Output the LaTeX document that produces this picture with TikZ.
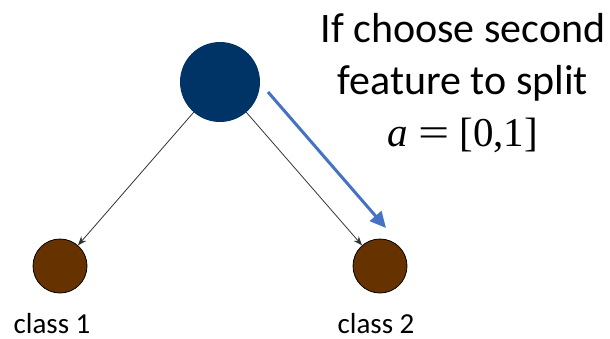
\documentclass[tikz,border=0pt]{standalone}
\usepackage{graphicx}
\usepackage{fontspec}
\setmainfont{Carlito}
\newfontfamily\formulafont{Liberation Serif}
\usetikzlibrary{arrows.meta}
\definecolor{rootblue}{RGB}{0,51,102}
\definecolor{leafbrown}{RGB}{102,51,0}
\definecolor{pickblue}{RGB}{68,114,196}
\tikzset{
  rootnode/.style={circle,fill=rootblue,inner sep=0pt,minimum size=80pt},
  leafnode/.style={circle,fill=leafbrown,draw=black,line width=0.8pt,inner sep=0pt,minimum size=54pt},
  edge/.style={draw=black!80,line width=0.8pt,-{Stealth[length=9pt,width=7pt]}},
  pick/.style={draw=pickblue,line width=3pt,-{Triangle[length=16pt,width=15pt]}},
  leaflabel/.style={anchor=base,font=\fontsize{29}{34}\selectfont,inner sep=0pt},
  note/.style={anchor=base,font=\fontsize{42}{52}\selectfont,inner sep=0pt},
  formula/.style={anchor=base,font=\formulafont\fontsize{41}{48}\selectfont,inner sep=0pt}
}
\begin{document}
\begin{tikzpicture}[x=1pt,y=-1pt]
  \useasboundingbox (0,0) rectangle (610,338);
  % tree nodes
  \node[rootnode] (root) at (220,82) {};
  \node[leafnode] (left) at (60,266) {};
  \node[leafnode] (right) at (380,266) {};
  % edges
  \draw[edge] (root) -- (left);
  \draw[edge] (root) -- (right);
  % highlighted split direction
  \coordinate (ps) at (268,92);
  \coordinate (pe) at (386,228);
  \draw[pick] (ps) -- (pe);
  % leaf labels
  \node[leaflabel] (c1) at (52,333.5) {class 1};
  \node[leaflabel] (c2) at (376,333.5) {class 2};
  % annotation
  \node[note] (t1) at (463,42) {If choose second};
  \node[note] (t2) at (463,94) {feature to split};
  \node[formula] (t3) at (463,146) {\itshape a\upshape\hspace{10pt}\scalebox{1.35}[1]{=}\hspace{10pt}[0,1]};
\end{tikzpicture}
\end{document}
